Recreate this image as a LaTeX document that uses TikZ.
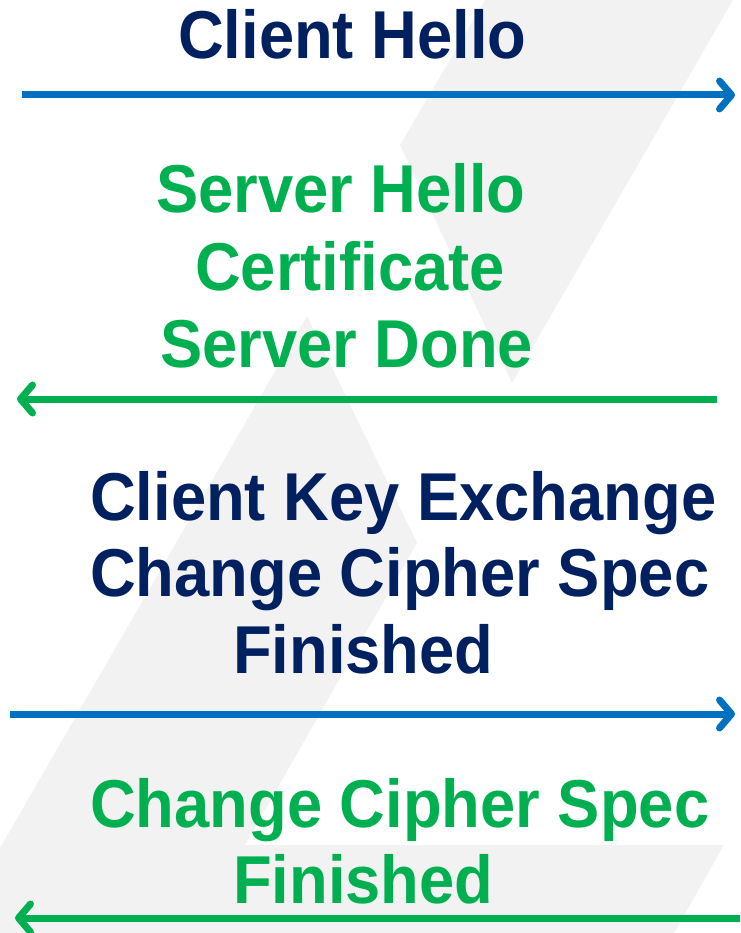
\documentclass[tikz,border=0pt]{standalone}
\usepackage{fontspec}
\setmainfont{Liberation Sans}
\usepackage{tikz}
\usetikzlibrary{arrows.meta}

\definecolor{navy}{HTML}{002060}
\definecolor{okgreen}{HTML}{00B050}
\definecolor{linkblue}{HTML}{0070C0}
\definecolor{bggray}{HTML}{F2F2F2}

\begin{document}
\begin{tikzpicture}[x=1pt, y=-1pt,
    msg/.style={anchor=base west, inner sep=0pt, yscale=1.07,
      font=\fontsize{63.3}{76}\selectfont\bfseries},
    tocli/.style={msg, text=navy},
    tosrv/.style={msg, text=okgreen},
    flow/.style={line width=7pt, -{Straight Barb[length=12pt,width=28pt,round]}}]
  \useasboundingbox (0,0) rectangle (740,933);
  % Background
  \fill[bggray] (485,0) -- (733,0) -- (512,383) -- (400,145) -- cycle;
  \fill[bggray] (307,316) -- (417,543) -- (245,845) -- (724,845) -- (674,933)
    -- (0,933) -- (0,848) -- cycle;
  % Nodes
  \node[tocli] (hello) at (178,59) {Client Hello};
  \node[tosrv] (srvhello) at (156,213) {Server Hello};
  \node[tosrv] (cert) at (195,290) {Certificate};
  \node[tosrv] (srvdone) at (160,367) {Server Done};
  \node[tocli] (keyx) at (90,520) {Client Key Exchange};
  \node[tocli] (ccs1) at (90,596) {Change Cipher Spec};
  \node[tocli] (fin1) at (233,673) {Finished};
  \node[tosrv] (ccs2) at (90,827) {Change Cipher Spec};
  \node[tosrv] (fin2) at (233,903) {Finished};
  % Arrow ends
  \coordinate (a1l) at (22,95);
  \coordinate (a1r) at (735,95);
  \coordinate (a2r) at (717,399);
  \coordinate (a2l) at (17,399);
  \coordinate (a3l) at (10,714);
  \coordinate (a3r) at (735,714);
  \coordinate (a4r) at (740,918);
  \coordinate (a4l) at (15,918);
  % Arrows
  \draw[flow, linkblue] (a1l) -- (a1r);
  \draw[flow, okgreen] (a2r) -- (a2l);
  \draw[flow, linkblue] (a3l) -- (a3r);
  \draw[flow, okgreen] (a4r) -- (a4l);
\end{tikzpicture}
\end{document}
